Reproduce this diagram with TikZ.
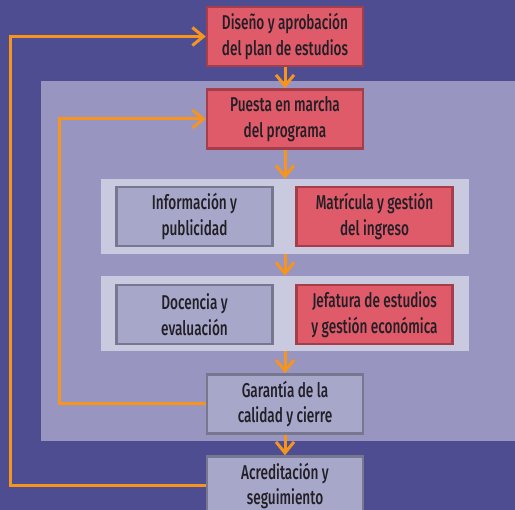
\documentclass[tikz,border=0pt]{standalone}
\usepackage{fontspec}
\setmainfont{Fira Sans}[FakeStretch=0.68, UprightFont={* Medium}]
\usetikzlibrary{arrows.meta}

\definecolor{fondo}{HTML}{4F4D92}
\definecolor{medio}{HTML}{9896C0}
\definecolor{franja}{HTML}{C9C9DF}
\definecolor{rojo}{HTML}{E05B69}
\definecolor{rojoborde}{HTML}{A53E4B}
\definecolor{gris}{HTML}{A7A7CA}
\definecolor{grisborde}{HTML}{77778F}
\definecolor{naranja}{HTML}{F7941E}
\definecolor{texto}{HTML}{231F26}

\tikzset{
  caja/.style={rectangle, line width=2.5pt, minimum width=156pt, minimum height=59pt,
    align=center, text=texto, inner sep=0pt,
    font=\fontsize{20}{25.5}\selectfont},
  cajaroja/.style={caja, fill=rojo, draw=rojoborde},
  cajagris/.style={caja, fill=gris, draw=grisborde},
  franjab/.style={rectangle, fill=franja, minimum width=368pt, minimum height=75pt, inner sep=0pt},
  flecha/.style={draw=naranja, line width=3pt, -{Straight Barb[length=11pt,width=18pt]}},
  lazo/.style={flecha, rounded corners=0pt}
}

\begin{document}
\begin{tikzpicture}[x=1pt,y=-1pt] %Ciclo del programa
  \useasboundingbox (0,0) rectangle (515,510);
  \clip (0,0) rectangle (515,510);
  \fill[fondo] (0,0) rectangle (515,510);
  \fill[medio] (41,81) rectangle (515,441);

  \node[franjab] (fila1) at (285,216.5) {};
  \node[franjab] (fila2) at (285,313.5) {};

  \node[cajaroja] (diseno) at (285,36.5) {Diseño y aprobación\\del plan de estudios};
  \node[cajaroja] (puesta) at (285,119) {Puesta en marcha\\del programa};

  \node[cajagris] (info) at (194.5,216.5) {Información y\\publicidad};
  \node[cajaroja] (matricula) at (374.5,216.5) {Matrícula y gestión\\del ingreso};

  \node[cajagris] (docencia) at (194.5,314.5) {Docencia y\\evaluación};
  \node[cajaroja] (jefatura) at (374.5,314.5) {Jefatura de estudios\\y gestión económica};

  \node[cajagris] (garantia) at (285,404) {Garantía de la\\calidad y cierre};
  \node[cajagris] (acred) at (285,486) {Acreditación y\\seguimiento};

  \draw[flecha] (diseno.south) -- (puesta.north);
  \draw[flecha] (puesta.south) -- (fila1.north);
  \draw[flecha] (fila1.south) -- (fila2.north);
  \draw[flecha] (fila2.south) -- (garantia.north);
  \draw[flecha] (garantia.south) -- (acred.north);

  \draw[lazo] (garantia.west) -- ++(-146,0) |- (puesta.west);
  \draw[lazo] (acred.west) -- ++(-195,0) |- (diseno.west);
\end{tikzpicture}
\end{document}
